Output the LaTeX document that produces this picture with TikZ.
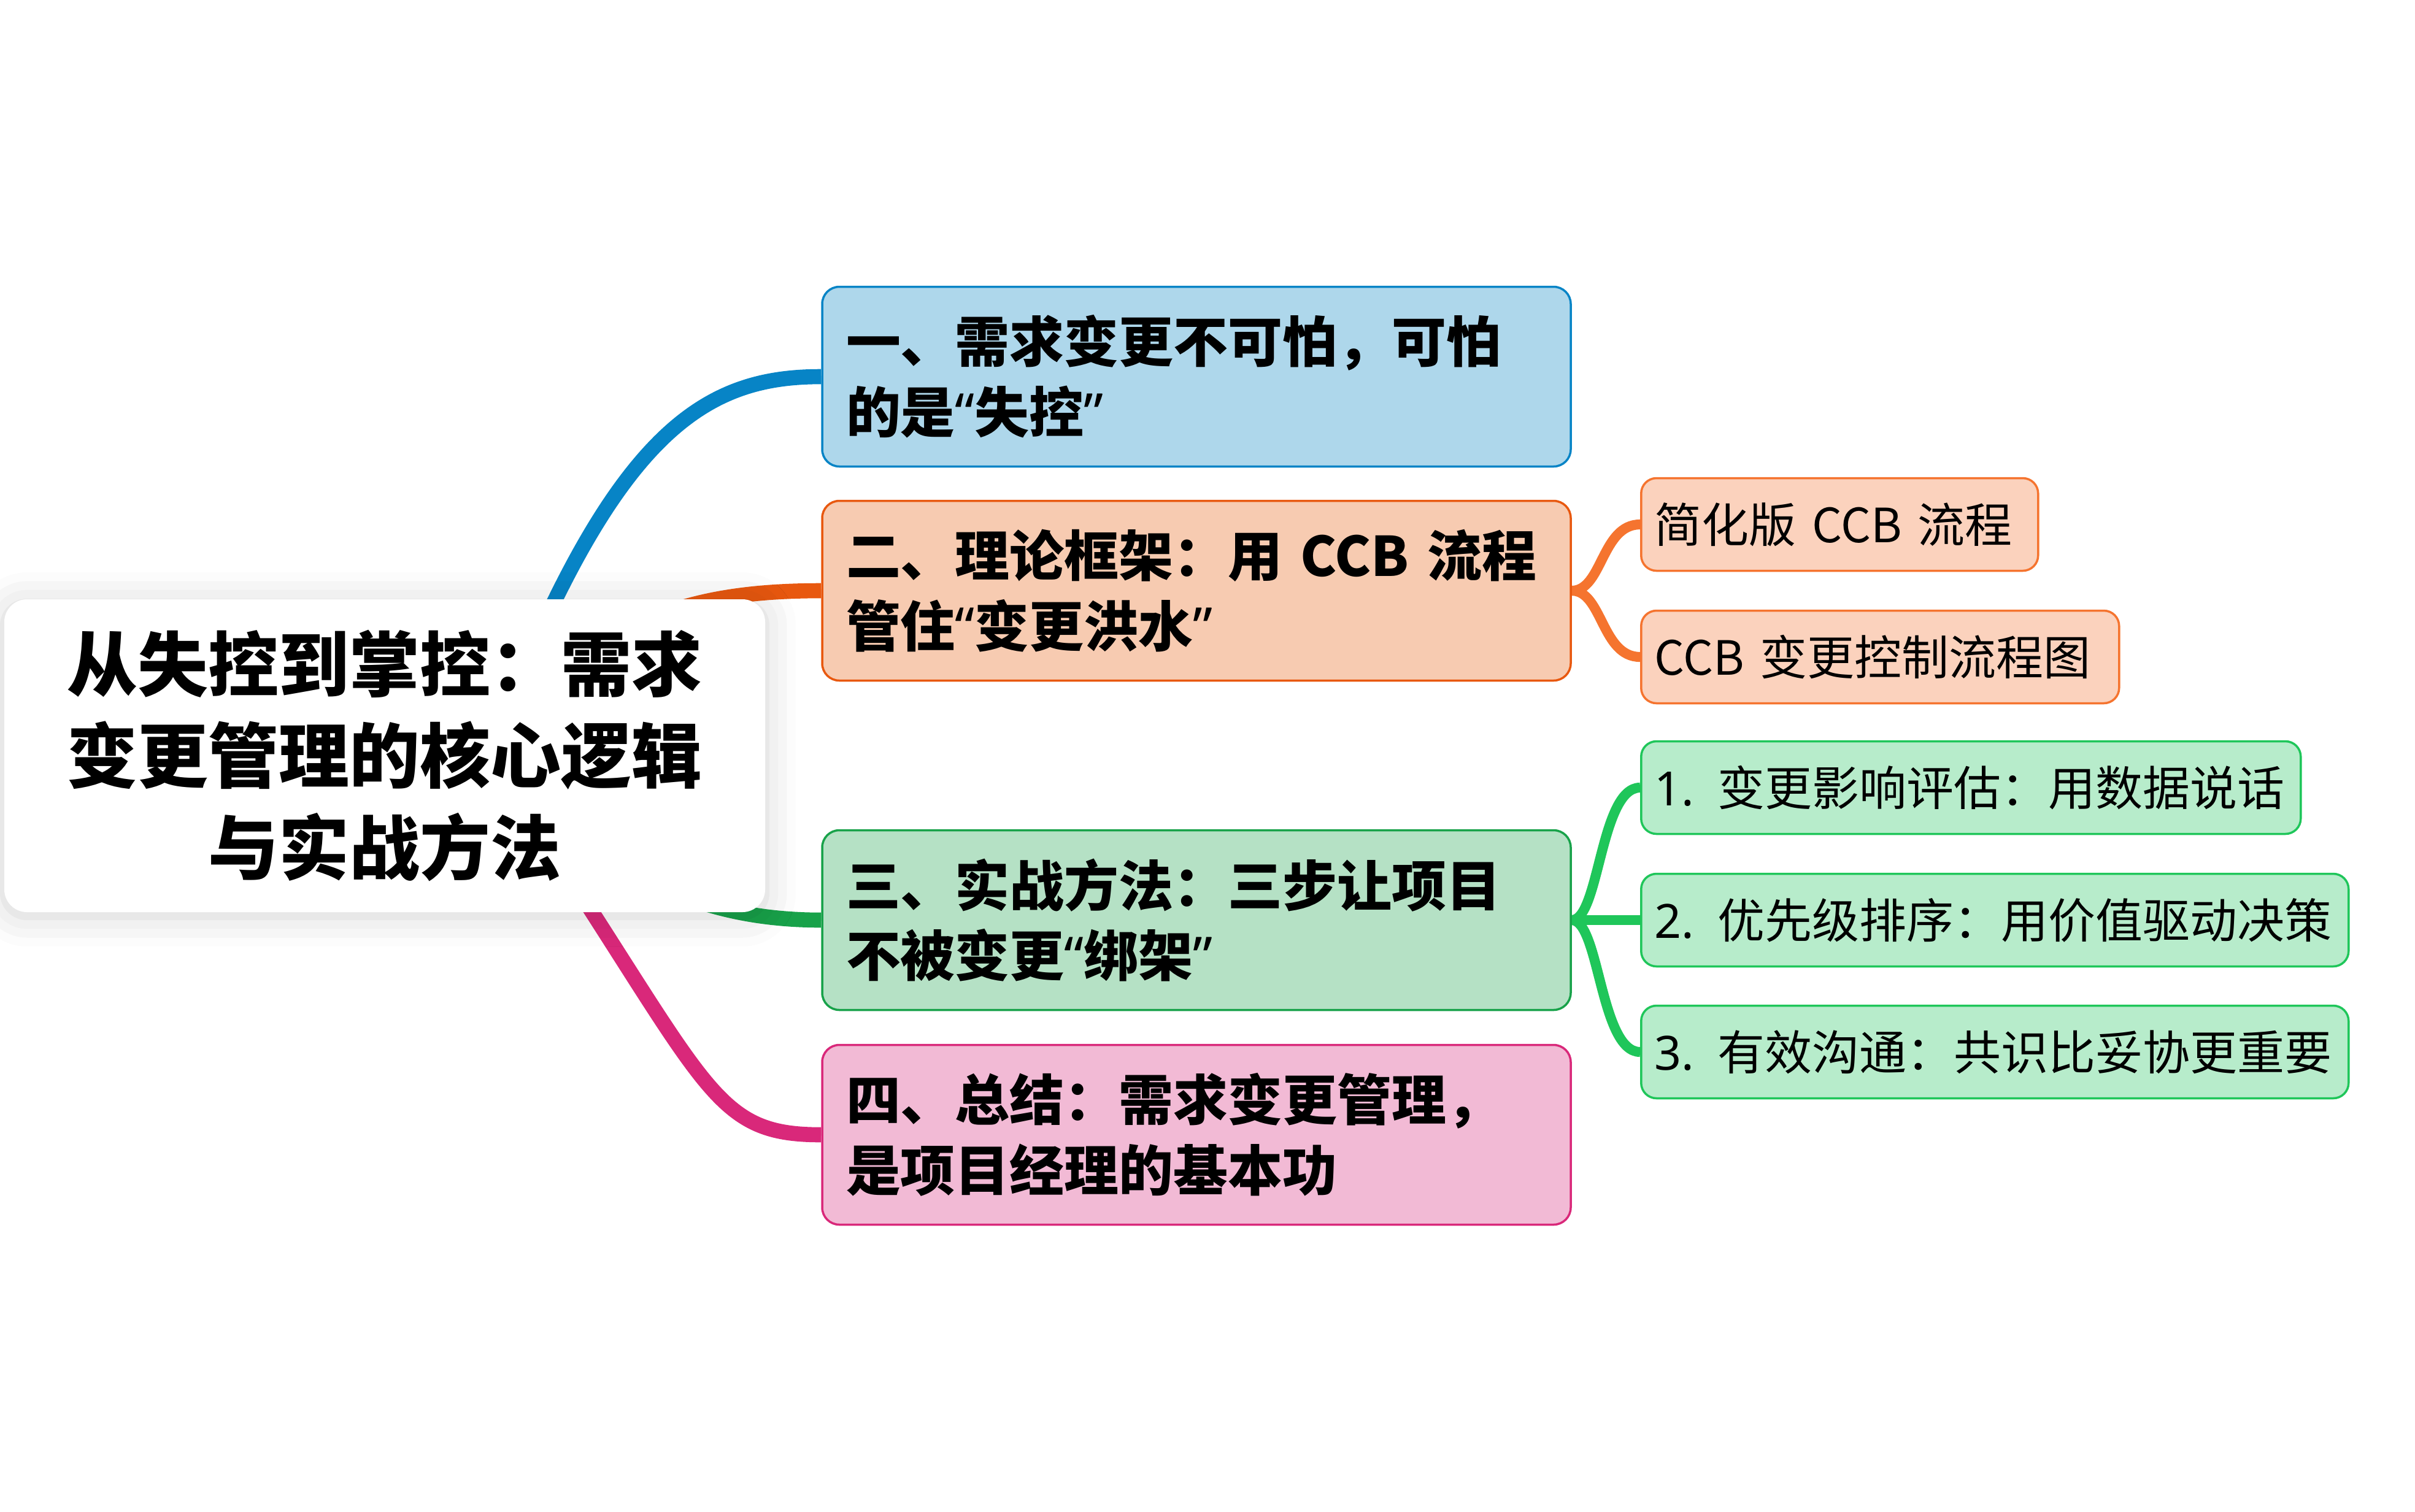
\documentclass[tikz,border=0pt]{standalone}
\usepackage{fontspec}
\setmainfont{Noto Sans CJK SC}
\newfontfamily\quotefont{Noto Sans}
\newcommand\qopen{{\quotefont “}}
\newcommand\qclose{{\quotefont ”}}
\usetikzlibrary{backgrounds,shadows.blur}

\definecolor{bluedark}{HTML}{0784C6}
\definecolor{bluefill}{HTML}{AED7EB}
\definecolor{orangedark}{HTML}{E8580F}
\definecolor{orangefill}{HTML}{F7CBB1}
\definecolor{orangelite}{HTML}{F5742F}
\definecolor{orangesubfill}{HTML}{FBD2BD}
\definecolor{greendark}{HTML}{18A24A}
\definecolor{greenfill}{HTML}{B5E1C5}
\definecolor{greenlite}{HTML}{1FC65A}
\definecolor{greensubfill}{HTML}{B7ECCB}
\definecolor{pinkdark}{HTML}{D9287A}
\definecolor{pinkfill}{HTML}{F2BAD5}

\begin{document}
\begin{tikzpicture}[
    root/.style={fill=white, rounded corners=0.37cm, minimum width=12.4cm, minimum height=5.1cm,
      align=center, font=\fontsize{32.7}{42.6}\selectfont\bfseries,
      blur shadow={shadow xshift=0pt, shadow yshift=-0.6mm, shadow blur radius=5mm, shadow opacity=18}},
    topic/.style={rounded corners=0.28cm, line width=1pt, inner xsep=0.39cm, text width=11.42cm,
      minimum height=2.93cm, align=left, font=\fontsize{25.3}{32.7}\selectfont\bfseries},
    sub/.style={rounded corners=0.25cm, line width=1pt, inner xsep=0.22cm, minimum height=1.51cm,
      align=left, anchor=west, font=\fontsize{21.9}{26}\selectfont},
    trunk/.style={line width=7pt},
    twig/.style={line width=4.6pt}
  ]
  \useasboundingbox (0,0) rectangle (39.36,-24.64);

  \node[root] (Root) at (6.27,-12.32) {从失控到掌控：需求\\变更管理的核心逻辑\\与实战方法};
  \coordinate (Hub) at (7.97,-12.32);

  \node[topic, draw=bluedark, fill=bluefill] (One) at (19.5,-6.14) {一、需求变更不可怕，可怕\\的是\qopen 失控\qclose};
  \node[topic, draw=orangedark, fill=orangefill] (Two) at (19.5,-9.63) {二、理论框架：用 CCB 流程\\管住\qopen 变更洪水\qclose};
  \node[topic, draw=greendark, fill=greenfill] (Three) at (19.5,-15.0) {三、实战方法：三步让项目\\不被变更\qopen 绑架\qclose};
  \node[topic, draw=pinkdark, fill=pinkfill] (Four) at (19.5,-18.5) {四、总结：需求变更管理，\\是项目经理的基本功};

  \node[sub, draw=orangelite, fill=orangesubfill, text width=6.03cm] (TwoA) at (26.73,-8.55) {简化版 CCB 流程};
  \node[sub, draw=orangelite, fill=orangesubfill, text width=7.35cm] (TwoB) at (26.73,-10.71) {CCB 变更控制流程图};
  \node[sub, draw=greenlite, fill=greensubfill, text width=10.31cm] (ThreeA) at (26.73,-12.84) {{\quotefont 1. }变更影响评估：用数据说话};
  \node[sub, draw=greenlite, fill=greensubfill, text width=11.09cm] (ThreeB) at (26.73,-15.0) {{\quotefont 2. }优先级排序：用价值驱动决策};
  \node[sub, draw=greenlite, fill=greensubfill, text width=11.09cm] (ThreeC) at (26.73,-17.15) {{\quotefont 3. }有效沟通：共识比妥协更重要};

  \begin{pgfonlayer}{background}
    \draw[trunk, bluedark] (Hub) .. controls +(2.0,5.32) and +(-1.9,0) .. (One.west);
    \draw[trunk, orangedark] (Hub) .. controls +(1.6,2.1) and +(-2.4,0) .. (Two.west);
    \draw[trunk, greendark] (Hub) .. controls +(1.6,-1.6) and +(-2.4,0) .. (Three.west);
    \draw[trunk, pinkdark] (Hub) .. controls +(3.6,-5.3) and +(-1.9,0) .. (Four.west);

    \draw[twig, orangelite] (Two.east) .. controls +(0.5,0) and +(-0.63,0) .. (TwoA.west);
    \draw[twig, orangelite] (Two.east) .. controls +(0.5,0) and +(-0.63,0) .. (TwoB.west);
    \draw[twig, greenlite] (Three.east) .. controls +(0.45,0) and +(-0.65,0) .. (ThreeA.west);
    \draw[twig, greenlite] (Three.east) -- (ThreeB.west);
    \draw[twig, greenlite] (Three.east) .. controls +(0.45,0) and +(-0.65,0) .. (ThreeC.west);
  \end{pgfonlayer}
\end{tikzpicture}
\end{document}
